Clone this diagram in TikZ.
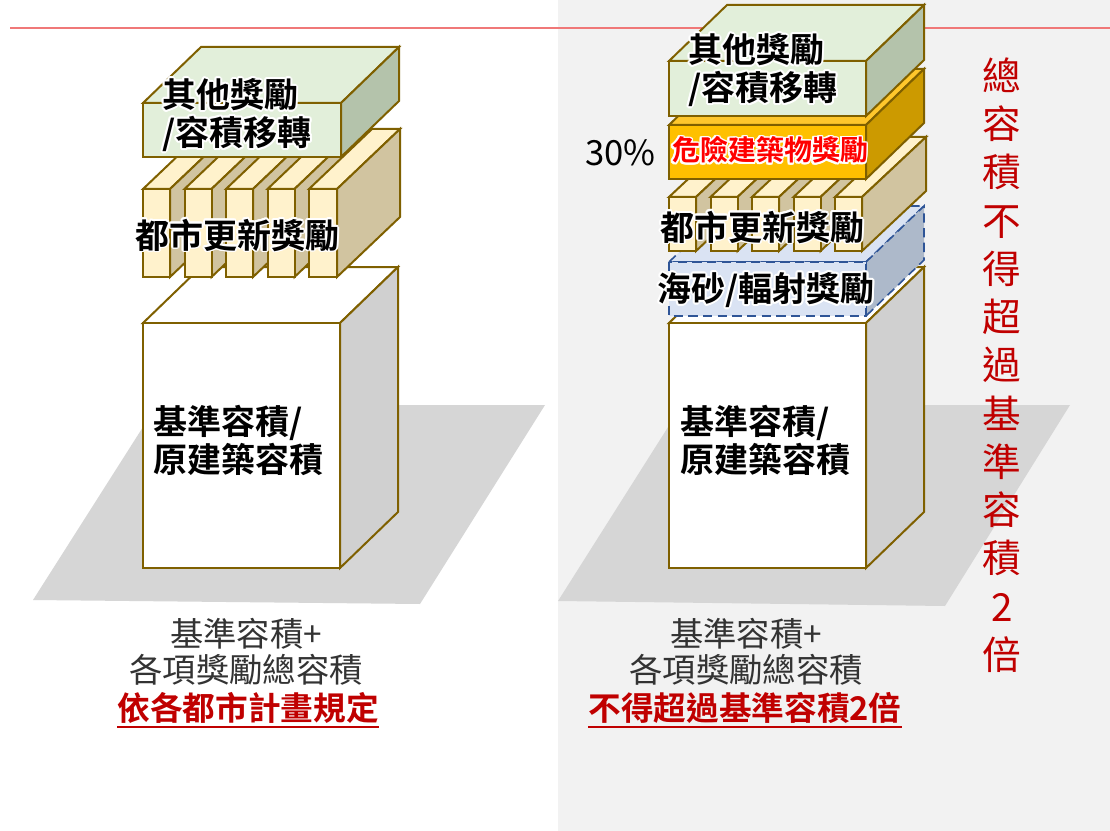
\documentclass[tikz,border=0pt]{standalone}
\usepackage{fontspec}
\newfontfamily\tc{Noto Sans CJK TC}[BoldFont={Noto Sans CJK TC Bold}]
\usepackage[copies]{contour}
\contourlength{1.3pt}
\contournumber{16}
\definecolor{boxline}{HTML}{7F6000}
\definecolor{grnfront}{HTML}{E2EFDA}
\definecolor{grnside}{HTML}{B4C3AB}
\definecolor{slatfront}{HTML}{FFF2CC}
\definecolor{slatside}{HTML}{D1C4A0}
\definecolor{baseside}{HTML}{D0D0D0}
\definecolor{orgfront}{HTML}{FFC000}
\definecolor{orgtop}{HTML}{FFC72C}
\definecolor{orgside}{HTML}{CC9A00}
\definecolor{blufront}{HTML}{DAE3F3}
\definecolor{bluside}{HTML}{ADB9CA}
\definecolor{bludash}{HTML}{2F5597}
\definecolor{shadowgray}{HTML}{D6D6D6}
\definecolor{panelgray}{HTML}{F2F2F2}
\definecolor{topline}{HTML}{F07878}
\definecolor{darkred}{HTML}{C00000}
\definecolor{brightred}{HTML}{FF0000}
\def\ddx{58}\def\ddy{56}
% #1 style, #2 x, #3 y, #4 w, #5 h, #6 front, #7 top, #8 side
\newcommand\mycube[8][cubeline]{%
  \filldraw[#1, fill=#7] (#2,#3) -- ++(\ddx,-\ddy) -- ++(#4,0) -- ++(-\ddx,\ddy) -- cycle;
  \filldraw[#1, fill=#8] (#2+#4,#3) -- ++(\ddx,-\ddy) -- ++(0,#5) -- ++(-\ddx,\ddy) -- cycle;
  \filldraw[#1, fill=#6] (#2,#3) rectangle ++(#4,#5);
}
\newcommand\glow[1]{\contour{white}{#1}}
\begin{document}
\begin{tikzpicture}[x=0.75pt,y=-0.75pt,
  cubeline/.style={draw=boxline, line width=1.5pt, line join=miter},
  dashline/.style={draw=bludash, line width=1.2pt, dash pattern=on 7pt off 4pt},
  lbl/.style={font=\tc\bfseries\fontsize{25.5}{28.5}\selectfont, align=left, inner sep=0pt, text=black},
  captxt/.style={font=\tc\fontsize{25}{28}\selectfont, inner sep=0pt, text=black!80},
  capred/.style={font=\tc\bfseries\fontsize{24.5}{28}\selectfont, inner sep=0pt, text=darkred},
  vert/.style={font=\tc\fontsize{29}{36.2}\selectfont, align=center, inner sep=0pt, text=darkred}]
\useasboundingbox (0,0) rectangle (1110,831);
% backgrounds
\fill[white] (0,0) rectangle (558,831);
\fill[panelgray] (558,0) rectangle (1110,831);
\draw[topline, line width=1.5pt] (10,28) -- (1110,28);
% ground shadows
\fill[shadowgray] (157,405) -- (545,405) -- (420,604) -- (33,600) -- cycle;
\fill[shadowgray] (682,405) -- (1070,405) -- (945,606) -- (558,601) -- cycle;

% ===== left stack =====
\mycube{143}{323}{197}{245}{white}{white}{baseside}
\def\ddx{63}\def\ddy{60}
\mycube{143}{189}{27}{88}{slatfront}{slatfront}{slatside}
\mycube{184.5}{189}{27}{88}{slatfront}{slatfront}{slatside}
\mycube{226}{189}{27}{88}{slatfront}{slatfront}{slatside}
\mycube{267.5}{189}{27}{88}{slatfront}{slatfront}{slatside}
\mycube{309}{189}{28}{88}{slatfront}{slatfront}{slatside}
\def\ddx{58}\def\ddy{56}
\mycube{143}{103}{198}{54}{grnfront}{grnfront}{grnside}

\node[lbl, anchor=west] (lother) at (162,116) {\glow{其他獎勵}\\\glow{/容積移轉}};
\node[lbl, anchor=west] (lurban) at (135,236) {\glow{都市更新獎勵}};
\node[lbl, anchor=west] (lbase) at (153,441) {\glow{基準容積/}\\\glow{原建築容積}};

% ===== right stack =====
\mycube{669}{323}{197}{245}{white}{white}{baseside}
\mycube[dashline]{669}{262}{197}{54}{blufront}{blufront}{bluside}
\def\ddx{64}\def\ddy{60}
\mycube{669}{197}{27}{54}{slatfront}{slatfront}{slatside}
\mycube{710.5}{197}{27}{54}{slatfront}{slatfront}{slatside}
\mycube{752}{197}{27}{54}{slatfront}{slatfront}{slatside}
\mycube{793.5}{197}{27}{54}{slatfront}{slatfront}{slatside}
\mycube{835}{197}{27}{54}{slatfront}{slatfront}{slatside}
\def\ddx{58}\def\ddy{56}
\mycube{669}{125}{197}{54}{orgfront}{orgtop}{orgside}
\mycube{669}{61}{197}{55}{grnfront}{grnfront}{grnside}

\node[lbl, anchor=west] (rother) at (688,71) {\glow{其他獎勵}\\\glow{/容積移轉}};
\node[font=\tc\bfseries\fontsize{21}{24}\selectfont, inner sep=0pt, text=brightred] (rdanger) at (770,151) {\glow{危險建築物獎勵}};
\node[font=\tc\fontsize{26}{30}\selectfont, inner sep=0pt, anchor=east] (pct) at (656,153) {30\%};
\node[lbl, anchor=west] (rurban) at (660,228) {\glow{都市更新獎勵}};
\node[lbl, anchor=west] (rsand) at (657,291) {\glow{海砂/輻射獎勵}};
\node[lbl, anchor=west] (rbase) at (680,441) {\glow{基準容積/}\\\glow{原建築容積}};

% ===== captions =====
\node[captxt] (lc1) at (246,634) {基準容積+};
\node[captxt] (lc2) at (246,670) {各項獎勵總容積};
\node[capred] (lc3) at (248,708) {依各都市計畫規定};
\draw[darkred, line width=1.5pt] ([yshift=-2pt]lc3.south west) -- ([yshift=-2pt]lc3.south east);

\node[captxt] (rc1) at (746,634) {基準容積+};
\node[captxt] (rc2) at (746,670) {各項獎勵總容積};
\node[capred] (rc3) at (745,708) {不得超過基準容積2倍};
\draw[darkred, line width=1.5pt] ([yshift=-2pt]rc3.south west) -- ([yshift=-2pt]rc3.south east);

% vertical text
\node[vert] (vtext) at (1002,365) {總\\容\\積\\不\\得\\超\\過\\基\\準\\容\\積\\2\\倍};
\end{tikzpicture}
\end{document}
